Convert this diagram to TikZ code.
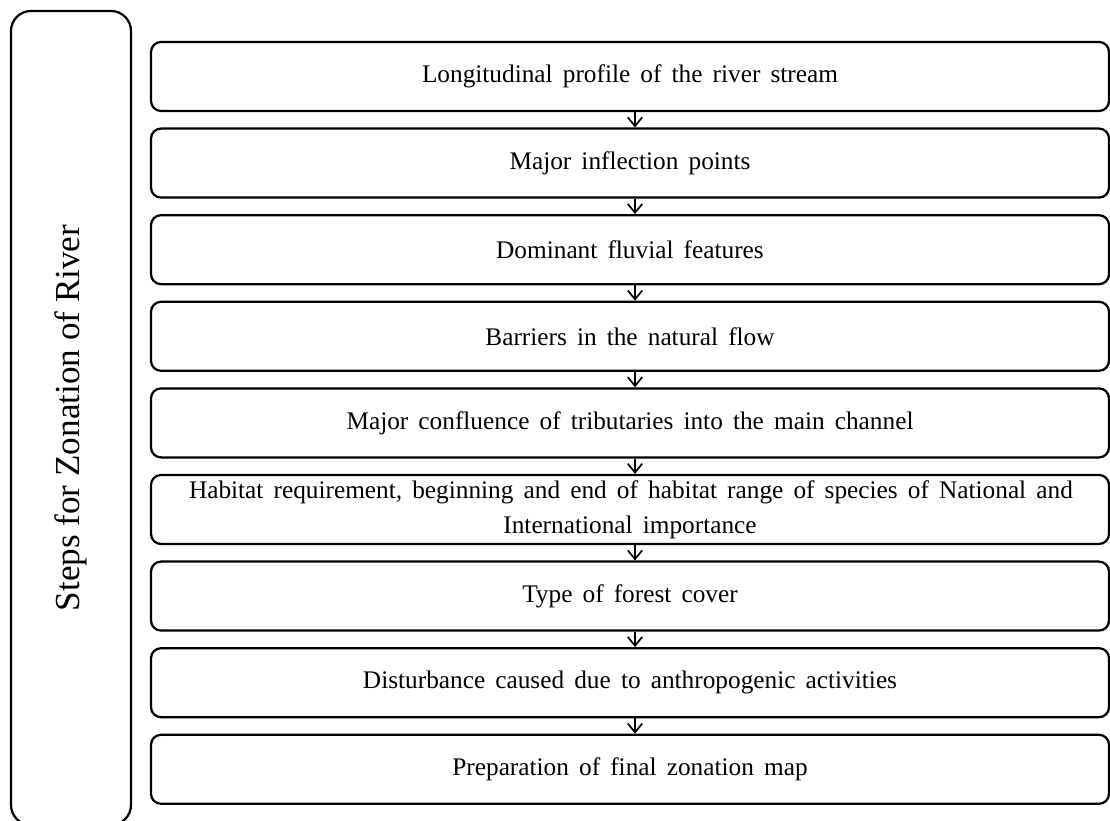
\documentclass[tikz,border=0pt]{standalone}
\usepackage{fontspec}
\setmainfont{Liberation Serif}
\usetikzlibrary{arrows.meta}
\usetikzlibrary{positioning}

\begin{document}
\begin{tikzpicture}[node distance=2.165cm,
  every node/.style={draw,line width=1.6pt,rounded corners=0.25cm,minimum width=23.95cm,minimum height=1.725cm,align=center,font={\fontsize{18}{25}\selectfont\spaceskip=0.4em\relax}},
  stepline/.style={-{Straight Barb[length=0.22cm,width=0.36cm]},line width=1.2pt}]
  \useasboundingbox (0,0) rectangle (27.75,20.5);
  \node[rotate=90,minimum width=20.35cm,minimum height=3cm,rounded corners=0.5cm,font=\fontsize{25}{30}\selectfont] (steps) at (1.775,10.05) {Steps for Zonation of River};
  \node (1) at (15.75,18.5875) {Longitudinal profile of the river stream};
  \node[below of=1] (2) {Major inflection points};
  \node[below of=2] (3) {Dominant fluvial features};
  \node[below of=3] (4) {Barriers in the natural flow};
  \node[below of=4] (5) {Major confluence of tributaries into the main channel};
  \node[below of=5] (6) {\makebox[22.05cm][s]{Habitat requirement, beginning and end of habitat range of species of National and}\\International importance};
  \node[below of=6] (7) {Type of forest cover};
  \node[below of=7] (8) {Disturbance caused due to anthropogenic activities};
  \node[below of=8] (9) {Preparation of final zonation map};
  \foreach \i [count=\j from 2] in {1,...,8}
    \draw[stepline] ([xshift=0.125cm]\i.south) -- ([xshift=0.125cm]\j.north);
\end{tikzpicture}
\end{document}
